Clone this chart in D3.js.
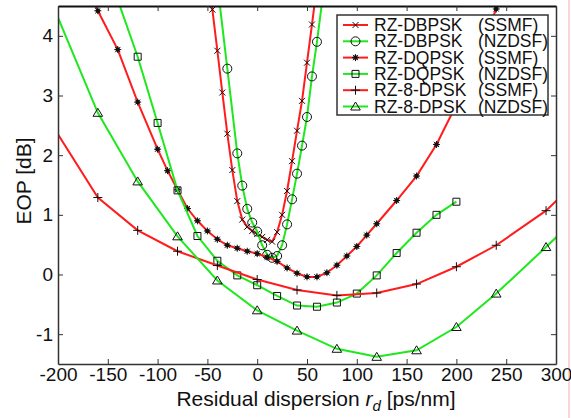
<!DOCTYPE html>
<html>
<head>
<meta charset="utf-8">
<script src="https://cdn.jsdelivr.net/npm/d3@7"></script>
<style>
  body { margin: 0; background: #fff; }
  svg { display: block; font-family: "Liberation Sans", Arial, sans-serif; }
</style>
</head>
<body>
<div id="chart"></div>
<script>
/* EOP vs residual dispersion, six modulation/fibre cases */

var seriesNames = ['RZ-DBPSK', 'RZ-DBPSK', 'RZ-DQPSK', 'RZ-DQPSK', 'RZ-8-DPSK', 'RZ-8-DPSK'];
var fibreNames = ['(SSMF)', '(NZDSF)', '(SSMF)', '(NZDSF)', '(SSMF)', '(NZDSF)'];

// residual dispersion [ps/nm] and EOP [dB] for each curve
var dbpskSsmfX = [-50, -45, -40, -35, -30, -25, -20, -15, -10, -5, 0, 5, 10, 15, 20, 25, 30, 35, 40, 45, 50, 55, 60];
var dbpskSsmfY = [5.1, 4.44, 3.75, 3.05, 2.36, 1.75, 1.23, 0.92, 0.80, 0.73, 0.68, 0.63, 0.58, 0.55, 0.71, 1.0, 1.40, 1.90, 2.41, 2.91, 3.55, 4.19, 4.85];

var dbpskNzdsfX = [-40, -30, -20, -15, -10, -5, 0, 5, 10, 15, 20, 25, 30, 35, 40, 45, 50, 55, 60, 70];
var dbpskNzdsfY = [4.87, 3.45, 2.03, 1.49, 1.10, 0.87, 0.72, 0.49, 0.33, 0.28, 0.31, 0.49, 0.84, 1.26, 1.69, 2.16, 2.64, 3.32, 3.90, 5.2];

var dqpskSsmfX = [-180, -160, -140, -120, -100, -90, -80, -70, -60, -50, -40, -30, -20, -10, 0, 10, 20, 30, 40, 50, 60, 70, 80, 90, 100, 110, 120, 140, 160, 180, 200, 220, 240, 260];
var dqpskSsmfY = [5.1, 4.42, 3.77, 2.89, 2.1, 1.74, 1.42, 1.105, 0.9, 0.73, 0.59, 0.49, 0.44, 0.39, 0.35, 0.29, 0.22, 0.11, 0.02, -0.04, -0.04, 0.03, 0.156, 0.31, 0.47, 0.66, 0.85, 1.24, 1.65, 2.18, 2.85, 3.6, 4.45, 5.4];

var dqpskNzdsfX = [-140, -120, -100, -80, -60, -40, -20, 0, 20, 40, 60, 80, 100, 120, 140, 160, 180, 200];
var dqpskNzdsfY = [4.6, 3.65, 2.54, 1.41, 0.645, 0.23, -0.015, -0.18, -0.36, -0.52, -0.54, -0.47, -0.32, -0.015, 0.36, 0.70, 1.0, 1.22];

var dpsk8SsmfX = [-240, -160, -120, -80, -40, 0, 40, 80, 120, 160, 200, 240, 290, 320];
var dpsk8SsmfY = [3.41, 1.29, 0.74, 0.39, 0.15, -0.084, -0.26, -0.35, -0.31, -0.16, 0.13, 0.49, 1.07, 1.55];

var dpsk8NzdsfX = [-240, -160, -120, -80, -40, 0, 40, 80, 120, 160, 200, 240, 290, 320];
var dpsk8NzdsfY = [5.9, 2.71, 1.56, 0.64, -0.1, -0.6, -0.94, -1.245, -1.38, -1.27, -0.88, -0.32, 0.46, 0.94];

var xTicks = [-200, -150, -100, -50, 0, 50, 100, 150, 200, 250, 300];
var yTicks = [-1, 0, 1, 2, 3, 4];

var width = 571;
var height = 418;
var plotLeft = 58, plotRight = 556, plotTop = 6, plotBottom = 364;

var red = '#ff1c1c';
var green = '#1ee81e';
var font = '"Liberation Sans", Arial, sans-serif';

var series = [
  { x: dbpskSsmfX, y: dbpskSsmfY, color: red, marker: 'x' },
  { x: dbpskNzdsfX, y: dbpskNzdsfY, color: green, marker: 'circle' },
  { x: dqpskSsmfX, y: dqpskSsmfY, color: red, marker: 'star' },
  { x: dqpskNzdsfX, y: dqpskNzdsfY, color: green, marker: 'square' },
  { x: dpsk8SsmfX, y: dpsk8SsmfY, color: red, marker: 'plus' },
  { x: dpsk8NzdsfX, y: dpsk8NzdsfY, color: green, marker: 'triangle' }
];

var markerPaths = {
  x: 'M-3,-3L3,3M-3,3L3,-3',
  plus: 'M-4.5,0L4.5,0M0,-4.5L0,4.5',
  square: 'M-3.5,-3.5h7v7h-7z',
  triangle: 'M0,-4.5L4.8,3.5L-4.8,3.5Z',
  circle: 'M4.5,0A4.5,4.5 0 1,1 -4.5,0A4.5,4.5 0 1,1 4.5,0Z',
  star: 'M-3.5,0L3.5,0M0,-3.5L0,3.5M-2.6,-2.6L2.6,2.6M-2.6,2.6L2.6,-2.6'
};

function drawMarker(sel, type) {
  sel.append('path')
    .attr('d', markerPaths[type])
    .attr('fill', 'none')
    .attr('stroke', '#111')
    .attr('stroke-width', 1);
  if (type === 'star') {
    sel.append('circle').attr('r', 2.3).attr('fill', '#111');
  }
}

// plain hyphen minus, like the original figure
function plainNumber(d) {
  return String(d);
}

var svg = d3.select('#chart').append('svg')
  .attr('width', width)
  .attr('height', height);

// faint pink edge on the right of the original scan
svg.append('line')
  .attr('x1', 569).attr('x2', 569).attr('y1', 0).attr('y2', height)
  .attr('stroke', '#f7caca').attr('stroke-width', 1.5);

var x = d3.scaleLinear().domain([-200, 300]).range([plotLeft, plotRight]);
var y = d3.scaleLinear().domain([-1.5, 4.5]).range([plotBottom, plotTop]);

svg.append('defs').append('clipPath').attr('id', 'plotClip')
  .append('rect')
  .attr('x', plotLeft).attr('y', plotTop)
  .attr('width', plotRight - plotLeft).attr('height', plotBottom - plotTop);

var plot = svg.append('g').attr('clip-path', 'url(#plotClip)');

var line = d3.line()
  .x(function(d) { return x(d[0]); })
  .y(function(d) { return y(d[1]); });

series.forEach(function(s) {
  var pts = s.x.map(function(v, i) { return [v, s.y[i]]; });
  plot.append('path')
    .datum(pts)
    .attr('d', line)
    .attr('fill', 'none')
    .attr('stroke', s.color)
    .attr('stroke-width', 2);
  plot.selectAll(null).data(pts).enter()
    .append('g')
    .attr('transform', function(d) { return 'translate(' + x(d[0]) + ',' + y(d[1]) + ')'; })
    .each(function() { drawMarker(d3.select(this), s.marker); });
});

/* axes: ticks point inward on all four sides */
function styleAxis(g, labels) {
  g.select('.domain').attr('stroke', '#333').attr('stroke-width', 1.5);
  g.selectAll('.tick line').attr('stroke', '#333');
  if (labels) {
    g.selectAll('text').attr('font-size', 19).attr('fill', '#111').attr('font-family', font);
  }
}

var frame = svg.append('g');
frame.append('g')
  .attr('transform', 'translate(0,' + plotBottom + ')')
  .call(d3.axisBottom(x).tickValues(xTicks).tickFormat(plainNumber)
    .tickSizeInner(-5).tickSizeOuter(0).tickPadding(4))
  .call(styleAxis, true);

frame.append('g')
  .attr('transform', 'translate(' + plotLeft + ',0)')
  .call(d3.axisLeft(y).tickValues(yTicks).tickFormat(plainNumber)
    .tickSizeInner(-5).tickSizeOuter(0).tickPadding(5))
  .call(styleAxis, true);

frame.append('g')
  .attr('transform', 'translate(0,' + plotTop + ')')
  .call(d3.axisTop(x).tickValues(xTicks).tickSizeInner(-5).tickSizeOuter(0).tickFormat(''))
  .call(styleAxis, false)
  .select('.domain').attr('stroke', '#111').attr('stroke-width', 1.8);

frame.append('g')
  .attr('transform', 'translate(' + plotRight + ',0)')
  .call(d3.axisRight(y).tickValues(yTicks).tickSizeInner(-5).tickSizeOuter(0).tickFormat(''))
  .call(styleAxis, false);

/* axis titles */
var xTitle = svg.append('text')
  .attr('x', 316).attr('y', 406)
  .attr('text-anchor', 'middle')
  .attr('font-size', 21)
  .attr('fill', '#111');
xTitle.append('tspan').text('Residual dispersion ');
xTitle.append('tspan').attr('font-style', 'italic').text('r');
xTitle.append('tspan').attr('font-style', 'italic').attr('font-size', 15).attr('dy', 5).text('d');
xTitle.append('tspan').attr('dy', -5).text(' [ps/nm]');

svg.append('text')
  .attr('transform', 'translate(31,181) rotate(-90)')
  .attr('text-anchor', 'middle')
  .attr('font-size', 21)
  .attr('fill', '#111')
  .text('EOP [dB]');

/* legend */
var legend = svg.append('g');
legend.append('rect')
  .attr('x', 337).attr('y', 15)
  .attr('width', 211).attr('height', 100)
  .attr('fill', '#fff')
  .attr('stroke', '#333')
  .attr('stroke-width', 1.5);

series.forEach(function(s, i) {
  var cy = 25 + i * 16.3;
  var row = legend.append('g');
  row.append('line')
    .attr('x1', 343).attr('x2', 368).attr('y1', cy).attr('y2', cy)
    .attr('stroke', s.color).attr('stroke-width', 2);
  drawMarker(row.append('g').attr('transform', 'translate(355.5,' + cy + ')'), s.marker);
  row.append('text')
    .attr('x', 374).attr('y', cy + 6)
    .attr('font-size', 17.5).attr('fill', '#111')
    .text(seriesNames[i]);
  row.append('text')
    .attr('x', 478).attr('y', cy + 6)
    .attr('font-size', 17.5).attr('fill', '#111')
    .text(fibreNames[i]);
});
</script>
</body>
</html>
